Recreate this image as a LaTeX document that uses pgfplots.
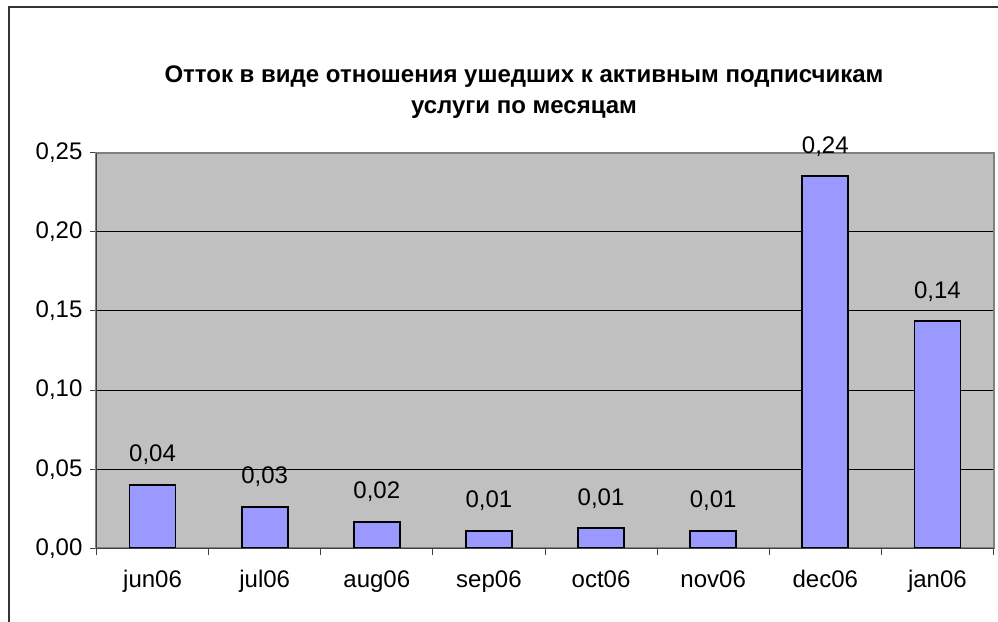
\documentclass[border=0pt]{standalone}
\usepackage{fontspec}
\setmainfont{Liberation Sans}
\usepackage{pgfplots}
\pgfplotsset{compat=1.18}
\definecolor{plotbg}{HTML}{C0C0C0}
\definecolor{barfill}{HTML}{9999FF}
\definecolor{plotedge}{HTML}{808080}
\begin{document}
\begin{tikzpicture}
\path[use as bounding box] (0,0) rectangle (499pt,311pt);
\draw[line width=1pt, black!80] (4.5pt,0) -- (4.5pt,307.25pt) -- (499pt,307.25pt);
\node[font=\bfseries\fontsize{12}{15.5}\selectfont, align=center] at (262pt,265pt)
  {Отток в виде отношения ушедших к активным подписчикам\\услуги по месяцам};
\begin{axis}[
  at={(48.25pt,36.85pt)}, anchor=south west,
  scale only axis, width=448.5pt, height=197.8pt,
  xmin=-0.5, xmax=7.5, ymin=0, ymax=0.25,
  axis background/.style={fill=plotbg},
  axis line style={draw=plotedge, line width=1pt},
  ytick={0,0.05,0.1,0.15,0.2,0.25},
  ymajorgrids, major grid style={black, line width=0.5pt},
  xtick={0,...,7},
  xticklabels={jun06,jul06,aug06,sep06,oct06,nov06,dec06,jan06},
  minor xtick={-0.5,0.5,...,7.5},
  tick align=outside, major tick length=3pt, minor tick length=3.5pt,
  major x tick style={draw=none},
  minor x tick style={draw=black!75, line width=0.5pt},
  major y tick style={draw=black!75, line width=0.5pt},
  xtick pos=bottom, ytick pos=left,
  ticklabel style={font=\fontsize{12}{14}\selectfont},
  yticklabel style={xshift=-0.5pt},
  xticklabel style={yshift=-4.5pt},
  /pgf/number format/.cd, fixed, fixed zerofill, precision=2, use comma, assume math mode=true,
  /pgfplots/.cd,
  ybar, bar width=0.41,
  nodes near coords={\pgfmathprintnumber[fixed,fixed zerofill,precision=2,use comma,assume math mode=true]{\pgfplotspointmeta}},
  every node near coord/.append style={font=\fontsize{12}{14}\selectfont, anchor=south, inner sep=0pt, yshift=9.5pt},
  clip=false,
]
\addplot[fill=barfill, draw=black, line width=0.9pt, bar shift=0pt] coordinates {
  (0,0.0401) (1,0.0263) (2,0.0168) (3,0.0111) (4,0.0127) (5,0.0111) (6,0.2352) (7,0.1434)
};
\draw[black!75, line width=0.6pt] (rel axis cs:0,1) -- (rel axis cs:0,0) -- (rel axis cs:1,0);
\end{axis}
\end{tikzpicture}
\end{document}
